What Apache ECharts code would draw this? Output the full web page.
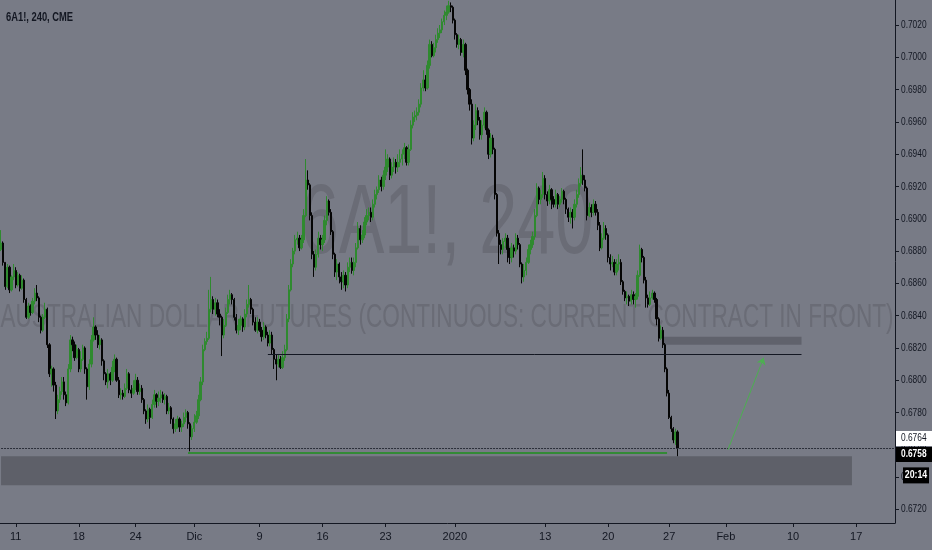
<!DOCTYPE html>
<html><head><meta charset="utf-8">
<script src="https://cdn.jsdelivr.net/npm/echarts@6/dist/echarts.min.js"></script>
<style>html,body{margin:0;padding:0;background:#787b86;}#c{width:932px;height:550px;}</style>
</head><body><div id="c"></div>
<script>
// ---- data ----
const firstOpen = 0.6881;
const closes = [
.6885,.6873,.6858,.6870,.6856,.6864,.6868,.6859,.6865,.6857,
.6862,.6850,.6839,.6846,.6842,.6849,.6854,.6851,.6839,.6831,
.6839,.6844,.6822,.6804,.6807,.6797,.6781,.6788,.6793,.6799,
.6791,.6786,.6807,.6825,.6822,.6814,.6819,.6807,.6813,.6820,
.6807,.6796,.6810,.6825,.6833,.6828,.6822,.6825,.6812,.6804,
.6799,.6804,.6800,.6808,.6813,.6800,.6791,.6792,.6790,.6795,
.6804,.6794,.6792,.6795,.6800,.6793,.6795,.6788,.6781,.6776,
.6782,.6777,.6785,.6791,.6787,.6789,.6791,.6788,.6790,.6781,
.6783,.6776,.6770,.6773,.6776,.6771,.6773,.6777,.6780,.6773,
.6765,.6770,.6774,.6778,.6788,.6799,.6819,.6824,.6826,.6844,
.6850,.6844,.6848,.6841,.6839,.6828,.6834,.6842,.6850,.6853,
.6850,.6839,.6831,.6834,.6838,.6833,.6841,.6847,.6850,.6844,
.6836,.6831,.6836,.6831,.6827,.6833,.6828,.6823,.6828,.6819,
.6813,.6810,.6813,.6808,.6814,.6819,.6838,.6856,.6872,.6880,
.6887,.6888,.6882,.6887,.6902,.6924,.6921,.6902,.6878,.6870,
.6878,.6888,.6884,.6887,.6899,.6911,.6904,.6892,.6878,.6867,
.6872,.6864,.6861,.6865,.6859,.6870,.6873,.6868,.6873,.6882,
.6894,.6887,.6890,.6898,.6902,.6904,.6901,.6909,.6915,.6918,
.6924,.6920,.6927,.6932,.6937,.6927,.6932,.6935,.6932,.6935,
.6937,.6940,.6944,.6935,.6943,.6958,.6963,.6964,.6966,.6971,
.6981,.6986,.6981,.6995,.7008,.7001,.7006,.7011,.7015,.7017,
.7022,.7026,.7028,.7032,.7031,.7023,.7014,.7008,.7011,.7003,
.7008,.6992,.6980,.6971,.6950,.6958,.6967,.6961,.6952,.6958,
.6966,.6955,.6940,.6950,.6943,.6915,.6891,.6884,.6881,.6886,
.6888,.6881,.6876,.6882,.6880,.6888,.6884,.6872,.6864,.6868,
.6873,.6881,.6884,.6889,.6902,.6919,.6912,.6915,.6925,.6915,
.6911,.6918,.6912,.6909,.6915,.6909,.6912,.6917,.6912,.6906,
.6901,.6904,.6901,.6909,.6915,.6922,.6927,.6924,.6919,.6902,
.6907,.6904,.6909,.6904,.6896,.6882,.6888,.6894,.6890,.6876,
.6872,.6873,.6867,.6872,.6873,.6861,.6855,.6851,.6852,.6849,
.6853,.6850,.6852,.6865,.6881,.6876,.6862,.6851,.6847,.6851,
.6854,.6850,.6838,.6826,.6831,.6822,.6807,.6792,.6777,.6770,
.6763,.6768,.6758];
const highs = [
.6893,.6886,.6873,.6872,.6871,.6865,.6872,.6870,.6867,.6866,
.6865,.6863,.6851,.6848,.6847,.6851,.6857,.6859,.6852,.6840,
.6841,.6848,.6845,.6823,.6809,.6808,.6799,.6791,.6796,.6802,
.6802,.6793,.6810,.6828,.6827,.6824,.6822,.6820,.6818,.6822,
.6821,.6808,.6813,.6828,.6839,.6834,.6831,.6828,.6826,.6813,
.6805,.6807,.6805,.6812,.6816,.6814,.6802,.6795,.6794,.6798,
.6807,.6805,.6797,.6800,.6804,.6802,.6798,.6797,.6789,.6782,
.6785,.6783,.6788,.6794,.6792,.6793,.6794,.6793,.6792,.6791,
.6786,.6784,.6777,.6776,.6778,.6777,.6775,.6780,.6782,.6781,
.6774,.6772,.6779,.6781,.6791,.6802,.6822,.6826,.6830,.6856,
.6864,.6852,.6851,.6850,.6844,.6840,.6838,.6845,.6853,.6856,
.6854,.6851,.6841,.6838,.6840,.6839,.6844,.6850,.6859,.6851,
.6845,.6839,.6839,.6838,.6833,.6836,.6834,.6830,.6831,.6830,
.6820,.6816,.6816,.6815,.6818,.6822,.6841,.6859,.6875,.6882,
.6890,.6892,.6890,.6890,.6906,.6937,.6930,.6922,.6904,.6880,
.6881,.6892,.6890,.6890,.6902,.6914,.6912,.6906,.6893,.6879,
.6875,.6873,.6867,.6868,.6867,.6873,.6876,.6876,.6876,.6885,
.6898,.6896,.6893,.6901,.6906,.6907,.6907,.6912,.6918,.6920,
.6927,.6926,.6930,.6943,.6940,.6938,.6935,.6938,.6937,.6940,
.6943,.6943,.6947,.6945,.6946,.6961,.6966,.6967,.6969,.6974,
.6984,.6992,.6989,.6998,.7011,.7010,.7009,.7014,.7018,.7020,
.7024,.7029,.7032,.7035,.7034,.7032,.7024,.7015,.7014,.7012,
.7011,.7009,.6993,.6981,.6974,.6961,.6971,.6969,.6963,.6961,
.6969,.6967,.6956,.6953,.6952,.6944,.6916,.6893,.6887,.6888,
.6891,.6890,.6882,.6885,.6884,.6891,.6890,.6885,.6873,.6872,
.6876,.6884,.6887,.6892,.6906,.6922,.6920,.6918,.6929,.6927,
.6917,.6921,.6919,.6914,.6918,.6916,.6914,.6919,.6918,.6913,
.6907,.6907,.6906,.6912,.6918,.6925,.6932,.6943,.6927,.6920,
.6910,.6909,.6912,.6911,.6906,.6898,.6891,.6898,.6896,.6891,
.6878,.6877,.6875,.6875,.6878,.6875,.6862,.6856,.6855,.6853,
.6856,.6855,.6854,.6868,.6884,.6882,.6877,.6864,.6853,.6855,
.6856,.6855,.6851,.6839,.6834,.6833,.6823,.6808,.6794,.6778,
.6771,.6770,.6769];
const lows = [
.6880,.6871,.6856,.6857,.6854,.6855,.6862,.6857,.6858,.6855,
.6856,.6848,.6838,.6838,.6840,.6841,.6847,.6849,.6836,.6829,
.6830,.6838,.6820,.6802,.6796,.6793,.6776,.6779,.6786,.6791,
.6788,.6784,.6785,.6805,.6818,.6812,.6813,.6805,.6805,.6812,
.6804,.6788,.6794,.6808,.6824,.6825,.6820,.6819,.6809,.6800,
.6797,.6795,.6797,.6799,.6805,.6799,.6789,.6788,.6788,.6789,
.6794,.6792,.6789,.6791,.6794,.6791,.6791,.6786,.6779,.6773,
.6774,.6770,.6776,.6783,.6783,.6784,.6786,.6786,.6785,.6779,
.6779,.6773,.6767,.6768,.6770,.6768,.6768,.6771,.6774,.6770,
.6756,.6763,.6768,.6773,.6776,.6787,.6797,.6818,.6822,.6825,
.6842,.6841,.6840,.6839,.6834,.6815,.6826,.6833,.6841,.6847,
.6847,.6837,.6829,.6828,.6831,.6830,.6831,.6839,.6845,.6841,
.6834,.6830,.6829,.6830,.6824,.6825,.6826,.6821,.6821,.6816,
.6807,.6800,.6808,.6807,.6807,.6812,.6818,.6836,.6855,.6870,
.6878,.6884,.6880,.6881,.6885,.6901,.6918,.6899,.6875,.6864,
.6868,.6876,.6881,.6880,.6885,.6896,.6902,.6890,.6875,.6864,
.6862,.6860,.6856,.6857,.6855,.6857,.6867,.6866,.6865,.6870,
.6881,.6884,.6885,.6888,.6896,.6899,.6898,.6899,.6907,.6912,
.6916,.6917,.6918,.6924,.6929,.6924,.6925,.6929,.6928,.6929,
.6932,.6933,.6937,.6933,.6933,.6942,.6956,.6960,.6961,.6964,
.6969,.6979,.6979,.6980,.6993,.7000,.7000,.7003,.7009,.7012,
.7015,.7020,.7023,.7027,.7028,.7021,.7011,.7006,.7005,.7001,
.7000,.6989,.6977,.6967,.6946,.6948,.6955,.6958,.6949,.6949,
.6956,.6952,.6937,.6938,.6940,.6912,.6889,.6872,.6878,.6878,
.6882,.6873,.6872,.6873,.6876,.6878,.6881,.6870,.6860,.6861,
.6865,.6872,.6878,.6882,.6887,.6901,.6909,.6909,.6913,.6912,
.6908,.6909,.6906,.6907,.6907,.6906,.6907,.6910,.6909,.6903,
.6898,.6897,.6894,.6899,.6907,.6913,.6920,.6921,.6917,.6899,
.6901,.6901,.6902,.6902,.6893,.6880,.6881,.6887,.6887,.6873,
.6868,.6870,.6865,.6865,.6868,.6859,.6853,.6849,.6847,.6846,
.6847,.6847,.6845,.6850,.6864,.6873,.6860,.6845,.6845,.6846,
.6850,.6848,.6834,.6824,.6825,.6820,.6805,.6790,.6776,.6768,
.6761,.6760,.6753];
const totalBars = 426;
const tickLabels = ['11','18','24','Dic','9','16','23','2020','13','20','27','Feb','10','17'];
const tickIndex  = [7,37,64,92,123,153,183,216,259,289,318,345,377,407];
const yTickValues = [0.6720,0.6740,0.6760,0.6780,0.6800,0.6820,0.6840,0.6860,0.6880,0.6900,0.6920,0.6940,0.6960,0.6980,0.7000,0.7020];
const yMin = 0.67116, yMax = 0.70355;
const lastPrice = 0.6758;
const markerPrice = 0.6764;
const countdown = '20:14';
const resistance = {from: 127, to: 381, price: 0.6816};
const support = {from: 89, to: 317, price: 0.6755};
const upperZone = {from: 315, to: 381, top: 0.6827, bottom: 0.6822};
const lowerZone = {from: 0, to: 405, top: 0.6753, bottom: 0.6735};
const arrow = {from: [346, 0.6757], to: [363, 0.6814]};
const titleText = '6A1!, 240, CME';
const watermark1 = '6A1!, 240';
const watermark2 = 'AUSTRALIAN DOLLAR FUTURES (CONTINUOUS: CURRENT CONTRACT IN FRONT)';

// ---- build ----
const candles = closes.map((c, i) => [i === 0 ? firstOpen : closes[i - 1], c, lows[i], highs[i]]);
const categories = Array.from({length: totalBars}, (_, i) => {
  const k = tickIndex.indexOf(i); return k >= 0 ? tickLabels[k] : '';
});
const tickSet = new Set(tickIndex);
const FONT = '"Liberation Sans", Arial, sans-serif';
const INK = '#131722';

const chart = echarts.init(document.getElementById('c'), null, {renderer: 'canvas'});
const option = {
  animation: false,
  backgroundColor: '#787b86',
  grid: {left: 0, right: 37, top: 0, bottom: 27, containLabel: false, outerBoundsMode: 'none'},
  xAxis: {
    type: 'category', data: categories, boundaryGap: true,
    axisLine: {show: true, lineStyle: {color: INK, width: 1}},
    axisTick: {show: true, alignWithLabel: true, length: 4, interval: (i) => tickSet.has(i), lineStyle: {color: INK}},
    axisLabel: {show: true, interval: (i) => tickSet.has(i), color: INK, fontSize: 11, margin: 8, fontFamily: FONT},
    splitLine: {show: false}
  },
  yAxis: {
    type: 'value', position: 'right', min: yMin, max: yMax, scale: true,
    axisLine: {show: true, lineStyle: {color: INK, width: 1}},
    axisTick: {show: true, length: 4, customValues: yTickValues, lineStyle: {color: INK}},
    axisLabel: {show: false},
    splitLine: {show: false}
  },
  series: [{
    type: 'candlestick',
    data: candles,
    barWidth: '85%',
    itemStyle: {color: '#2f8a2f', color0: '#050505', borderColor: '#2f8a2f', borderColor0: '#050505', borderWidth: 1},
    markArea: {
      silent: true,
      data: [
        [{coord: [lowerZone.from, lowerZone.top], itemStyle: {color: '#5e6069'}}, {coord: [lowerZone.to, lowerZone.bottom]}],
        [{coord: [upperZone.from, upperZone.top], itemStyle: {color: '#60626c'}}, {coord: [upperZone.to, upperZone.bottom]}]
      ]
    },
    markLine: {
      silent: true, symbol: ['none', 'none'], label: {show: false}, animation: false,
      data: [
        [{coord: [0, lastPrice], lineStyle: {color: '#2a2e39', type: [2, 1], width: 1}}, {coord: [totalBars - 1, lastPrice]}],
        [{coord: [resistance.from, resistance.price], lineStyle: {color: INK, type: 'solid', width: 1}}, {coord: [resistance.to, resistance.price]}],
        [{coord: [support.from, support.price], lineStyle: {color: '#338a36', type: 'solid', width: 2}}, {coord: [support.to, support.price]}],
        [{coord: arrow.from, symbol: 'none', lineStyle: {color: '#4caf50', type: 'solid', width: 1}}, {coord: arrow.to, symbol: 'arrow', symbolSize: 7}]
      ]
    }
  }]
};
chart.setOption(option);

// texts placed through the library's y scale
const py = (v) => chart.convertToPixel({yAxisIndex: 0}, v);
const rightEdge = 895;
const yMark = py(markerPrice);
const yLast = Math.max(py(lastPrice), yMark + 16);
const yCount = yLast + 21;
const boxH = 15;
const txt = (text, x, y, font, fill, align, scaleX, z) => ({
  type: 'text', silent: true, z: z, x: x, y: y, scaleX: scaleX,
  style: {text: text, font: font, fill: fill, textAlign: align, textVerticalAlign: 'middle', align: align, verticalAlign: 'middle'}
});
const graphics = [
  txt(watermark1, 447, 226, '99px ' + FONT, '#6a6c76', 'center', 0.69, 0),
  txt(watermark2, 447, 318, '33.5px ' + FONT, '#6a6c76', 'center', 0.675, 0),
  txt(titleText, 6, 18, 'bold 12px ' + FONT, INK, 'left', 0.78, 10)
];
yTickValues.forEach((v) => graphics.push(txt(v.toFixed(4), rightEdge + 6, py(v), '11px ' + FONT, INK, 'left', 0.76, 5)));
graphics.push(
  {type: 'rect', silent: true, z: 20, shape: {x: rightEdge + 1, y: yMark - boxH / 2, width: 37, height: boxH}, style: {fill: '#ffffff'}},
  txt(markerPrice.toFixed(4), rightEdge + 6, yMark, '11px ' + FONT, INK, 'left', 0.76, 21),
  {type: 'rect', silent: true, z: 20, shape: {x: rightEdge + 1, y: yLast - boxH / 2, width: 37, height: boxH}, style: {fill: '#000000'}},
  txt(lastPrice.toFixed(4), rightEdge + 6, yLast, 'bold 11px ' + FONT, '#ffffff', 'left', 0.76, 21),
  {type: 'rect', silent: true, z: 20, shape: {x: rightEdge + 8, y: yCount - 8, width: 26, height: 16}, style: {fill: '#000000'}},
  txt(countdown, rightEdge + 21, yCount, 'bold 11px ' + FONT, '#ffffff', 'center', 0.8, 21)
);
chart.setOption({graphic: graphics});
</script></body></html>
